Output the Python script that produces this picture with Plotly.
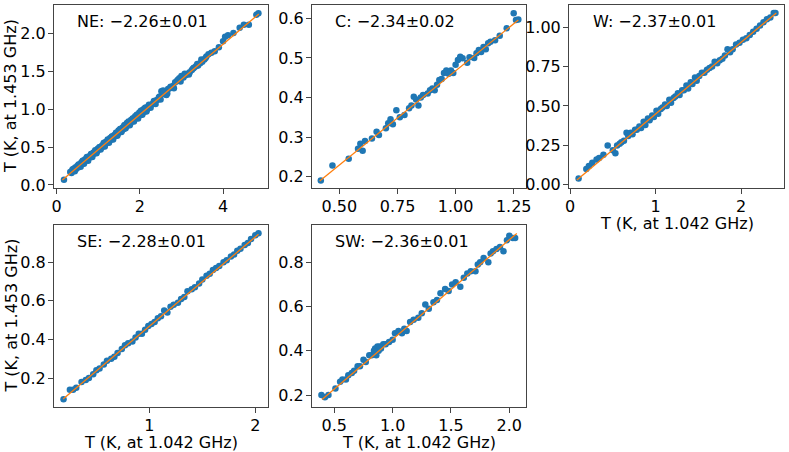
import plotly.graph_objects as go

# ---------------- data ----------------
NE_x = [0.18,0.33,0.36,0.40,0.42,0.45,0.47,0.50,0.52,0.55,0.57,0.60,0.62,0.64,0.67,0.69,0.72,0.74,0.77,0.79,
        0.82,0.84,0.87,0.89,0.92,0.94,0.97,0.99,1.02,1.04,1.07,1.09,1.12,1.14,1.17,1.19,1.22,1.24,1.27,1.29,
        1.32,1.34,1.37,1.39,1.42,1.44,1.47,1.49,1.52,1.54,1.57,1.59,1.62,1.64,1.67,1.69,1.72,1.74,1.77,1.79,
        1.82,1.84,1.87,1.89,1.92,1.94,1.97,1.99,2.02,2.04,2.07,2.09,2.12,2.14,2.17,2.20,2.24,2.28,2.32,2.36,
        2.40,2.44,2.48,2.52,2.56,2.60,2.64,2.68,2.72,2.76,2.80,2.85,2.90,2.95,3.00,3.05,3.10,3.15,3.20,3.25,
        3.30,3.35,3.40,3.45,3.50,3.55,3.60,3.65,3.72,3.80,3.90,4.00,4.05,4.12,4.25,4.40,4.50,4.62,4.80,4.85,
        0.38,0.44,0.53,0.58,0.63,0.66,0.73,0.76,0.83,0.86,0.93,0.96,1.03,1.06,1.13,1.16,1.23,1.26,1.33,1.36,
        1.43,1.46,1.53,1.56,1.63,1.66,1.73,1.76,1.83,1.86,1.93,1.96,2.03,2.06,2.13,2.16,2.22,2.26,2.34,2.38,
        2.46,2.50,2.58,2.66,2.74,2.82,2.92,2.98,3.08,3.18,3.28,3.38,3.48,3.58]
NE_y = [0.07,0.17,0.16,0.21,0.19,0.23,0.21,0.25,0.23,0.27,0.26,0.30,0.28,0.32,0.30,0.34,0.33,0.36,0.35,0.38,
        0.37,0.41,0.40,0.43,0.42,0.45,0.44,0.48,0.47,0.50,0.49,0.52,0.51,0.56,0.54,0.57,0.56,0.59,0.58,0.62,
        0.60,0.64,0.63,0.66,0.65,0.69,0.67,0.72,0.70,0.74,0.72,0.76,0.74,0.79,0.77,0.82,0.79,0.83,0.81,0.86,
        0.84,0.88,0.86,0.91,0.89,0.93,0.91,0.96,0.93,0.98,0.95,1.00,0.97,1.02,0.99,1.03,1.03,1.06,1.08,1.09,
        1.12,1.13,1.17,1.24,1.25,1.20,1.19,1.27,1.28,1.29,1.31,1.36,1.38,1.41,1.44,1.42,1.45,1.47,1.49,1.52,
        1.55,1.57,1.58,1.61,1.63,1.66,1.70,1.73,1.75,1.77,1.82,1.90,1.96,1.98,2.01,2.08,2.12,2.12,2.25,2.27,
        0.20,0.18,0.27,0.24,0.32,0.28,0.37,0.32,0.41,0.37,0.46,0.42,0.50,0.47,0.55,0.51,0.60,0.56,0.64,0.60,
        0.69,0.65,0.74,0.70,0.79,0.75,0.84,0.79,0.88,0.84,0.93,0.88,0.98,0.93,1.02,0.97,1.06,1.02,1.11,1.07,
        1.16,1.13,1.22,1.21,1.30,1.28,1.39,1.37,1.47,1.46,1.54,1.60,1.66,1.68]
NE_fit_x = [0.14, 4.86]
NE_fit_y = [0.066, 2.26]

C_x = [0.42,0.47,0.54,0.58,0.59,0.60,0.61,0.64,0.66,0.67,0.70,0.71,0.72,0.73,0.745,0.76,0.78,0.80,0.81,0.82,
       0.83,0.84,0.85,0.86,0.88,0.89,0.90,0.91,0.92,0.93,0.94,0.95,0.96,0.97,0.98,0.99,1.00,1.01,1.02,1.03,
       1.05,1.06,1.08,1.09,1.10,1.11,1.12,1.13,1.14,1.15,1.17,1.19,1.22,1.25,1.26,1.27]
C_y = [0.19,0.228,0.245,0.27,0.283,0.265,0.29,0.296,0.313,0.305,0.322,0.335,0.345,0.332,0.368,0.35,0.356,0.373,0.38,0.402,
       0.395,0.38,0.40,0.406,0.41,0.418,0.423,0.418,0.432,0.444,0.447,0.462,0.468,0.46,0.468,0.462,0.483,0.495,0.503,0.499,
       0.488,0.502,0.50,0.512,0.52,0.515,0.528,0.522,0.537,0.541,0.545,0.556,0.575,0.613,0.596,0.597]
C_fit_x = [0.415, 1.27]
C_fit_y = [0.189, 0.596]

W_x = [0.10,0.19,0.22,0.26,0.31,0.34,0.39,0.44,0.50,0.53,0.55,0.58,0.60,0.63,0.66,0.68,0.71,0.73,0.76,0.78,
       0.81,0.83,0.86,0.88,0.91,0.93,0.96,0.98,1.01,1.03,1.06,1.08,1.11,1.13,1.16,1.18,1.21,1.23,1.26,1.28,
       1.31,1.33,1.36,1.38,1.41,1.43,1.46,1.48,1.51,1.54,1.57,1.60,1.63,1.66,1.69,1.72,1.75,1.78,1.81,1.84,
       1.87,1.90,1.94,1.98,2.02,2.06,2.10,2.14,2.18,2.22,2.26,2.30,2.34,2.38,2.40]
W_y = [0.04,0.10,0.12,0.14,0.16,0.17,0.19,0.25,0.22,0.20,0.25,0.26,0.27,0.28,0.33,0.31,0.33,0.32,0.35,0.35,
       0.37,0.36,0.40,0.38,0.42,0.41,0.44,0.43,0.47,0.45,0.48,0.49,0.51,0.50,0.54,0.52,0.55,0.56,0.58,0.57,
       0.60,0.60,0.63,0.61,0.65,0.64,0.68,0.66,0.69,0.71,0.71,0.73,0.74,0.75,0.78,0.77,0.79,0.80,0.82,0.86,
       0.84,0.86,0.89,0.90,0.92,0.93,0.95,0.97,0.99,1.01,1.03,1.05,1.06,1.09,1.09]
W_fit_x = [0.08, 2.41]
W_fit_y = [0.03, 1.09]

SE_x = [0.19,0.25,0.28,0.31,0.36,0.40,0.43,0.47,0.50,0.53,0.57,0.60,0.64,0.67,0.70,0.74,0.77,0.80,0.84,0.87,
        0.90,0.93,0.96,0.99,1.02,1.05,1.08,1.11,1.14,1.17,1.20,1.23,1.27,1.30,1.33,1.36,1.40,1.43,1.47,1.50,
        1.54,1.57,1.60,1.63,1.66,1.70,1.73,1.77,1.80,1.83,1.86,1.90,1.93,1.96,2.00,2.03]
SE_y = [0.09,0.14,0.14,0.15,0.18,0.19,0.20,0.22,0.24,0.25,0.27,0.29,0.30,0.31,0.33,0.35,0.37,0.38,0.39,0.41,
        0.43,0.43,0.45,0.47,0.48,0.49,0.51,0.52,0.55,0.54,0.57,0.58,0.59,0.61,0.62,0.65,0.66,0.67,0.69,0.71,
        0.73,0.74,0.76,0.77,0.78,0.80,0.81,0.83,0.84,0.86,0.87,0.89,0.90,0.92,0.94,0.95]
SE_fit_x = [0.186, 2.03]
SE_fit_y = [0.091, 0.945]

SW_x = [0.39,0.42,0.45,0.51,0.55,0.57,0.60,0.62,0.65,0.67,0.70,0.72,0.75,0.77,0.80,0.82,0.84,0.85,0.86,0.87,
        0.88,0.89,0.90,0.92,0.94,0.97,1.00,1.02,1.05,1.08,1.10,1.12,1.15,1.18,1.22,1.25,1.28,1.31,1.35,1.38,
        1.41,1.45,1.48,1.51,1.54,1.58,1.61,1.64,1.67,1.71,1.73,1.75,1.78,1.82,1.84,1.86,1.89,1.92,1.95,1.98,
        2.00,2.03,2.05]
SW_y = [0.20,0.19,0.20,0.23,0.26,0.27,0.27,0.29,0.30,0.31,0.33,0.33,0.36,0.35,0.38,0.38,0.40,0.41,0.38,0.42,
        0.40,0.42,0.41,0.43,0.43,0.44,0.45,0.48,0.49,0.48,0.50,0.49,0.53,0.54,0.55,0.57,0.61,0.59,0.62,0.63,
        0.66,0.68,0.67,0.70,0.71,0.69,0.73,0.75,0.76,0.76,0.79,0.80,0.82,0.80,0.84,0.85,0.86,0.87,0.85,0.90,
        0.92,0.91,0.91]
SW_fit_x = [0.395, 2.064]
SW_fit_y = [0.18, 0.931]

labels = ["NE: \u22122.26\u00b10.01", "C: \u22122.34\u00b10.02", "W: \u22122.37\u00b10.01",
          "SE: \u22122.28\u00b10.01", "SW: \u22122.36\u00b10.01"]

xticks = [[0, 2, 4], [0.5, 0.75, 1.0, 1.25], [0, 1, 2], [1, 2], [0.5, 1.0, 1.5, 2.0]]
xtick_text = [["0", "2", "4"], ["0.50", "0.75", "1.00", "1.25"], ["0", "1", "2"], ["1", "2"],
              ["0.5", "1.0", "1.5", "2.0"]]
yticks = [[0.0, 0.5, 1.0, 1.5, 2.0], [0.2, 0.3, 0.4, 0.5, 0.6], [0.0, 0.25, 0.5, 0.75, 1.0],
          [0.2, 0.4, 0.6, 0.8], [0.2, 0.4, 0.6, 0.8]]
ytick_text = [["0.0", "0.5", "1.0", "1.5", "2.0"], ["0.2", "0.3", "0.4", "0.5", "0.6"],
              ["0.00", "0.25", "0.50", "0.75", "1.00"], ["0.2", "0.4", "0.6", "0.8"], ["0.2", "0.4", "0.6", "0.8"]]

xlabel = "T (K, at 1.042 GHz)"
ylabel = "T (K, at 1.453 GHz)"

# ---------------- layout geometry ----------------
W_PX, H_PX = 789, 452
panels = [
    dict(x=NE_x, y=NE_y, fx=NE_fit_x, fy=NE_fit_y, xr=[-0.06, 5.08], yr=[-0.04, 2.38],
         px=(54, 268), py=(5, 188), xt=False, yt=True),
    dict(x=C_x, y=C_y, fx=C_fit_x, fy=C_fit_y, xr=[0.382, 1.303], yr=[0.171, 0.634],
         px=(312, 526), py=(5, 188), xt=False, yt=False),
    dict(x=W_x, y=W_y, fx=W_fit_x, fy=W_fit_y, xr=[-0.012, 2.5], yr=[-0.02, 1.14],
         px=(569, 784), py=(5, 188), xt=True, yt=False),
    dict(x=SE_x, y=SE_y, fx=SE_fit_x, fy=SE_fit_y, xr=[0.10, 2.12], yr=[0.05, 0.993],
         px=(54, 268), py=(225, 407), xt=True, yt=True),
    dict(x=SW_x, y=SW_y, fx=SW_fit_x, fy=SW_fit_y, xr=[0.309, 2.143], yr=[0.146, 0.969],
         px=(312, 526), py=(225, 407), xt=True, yt=False),
]

BLUE = "#1f77b4"
ORANGE = "#ff7f0e"
FONT = "DejaVu Sans"
FRAME = "#444"

fig = go.Figure()
layout = dict(
    width=W_PX, height=H_PX, margin=dict(l=0, r=0, t=0, b=0, autoexpand=False),
    paper_bgcolor="white", plot_bgcolor="white", showlegend=False,
    font=dict(family=FONT, size=16, color="black"),
)
annotations = []
for i, p in enumerate(panels):
    k = "" if i == 0 else str(i + 1)
    xa, ya = "x" + k, "y" + k
    fig.add_trace(go.Scatter(x=p["x"], y=p["y"], mode="markers", xaxis=xa, yaxis=ya,
                             marker=dict(color=BLUE, size=6.5, line=dict(width=0))))
    fig.add_trace(go.Scatter(x=p["fx"], y=p["fy"], mode="lines", xaxis=xa, yaxis=ya,
                             line=dict(color=ORANGE, width=1.3)))
    common = dict(showgrid=False, zeroline=False, showline=True, mirror=True, linecolor=FRAME,
                  linewidth=1, ticks="outside", ticklen=5, tickwidth=1, tickcolor=FRAME,
                  ticklabelstandoff=-1,
                  automargin=False, tickfont=dict(family=FONT, size=16, color="black"))
    layout["xaxis" + k] = dict(common, domain=[p["px"][0] / W_PX, p["px"][1] / W_PX], range=p["xr"],
                               anchor=ya, tickvals=xticks[i], ticktext=xtick_text[i])
    layout["yaxis" + k] = dict(common, domain=[1 - p["py"][1] / H_PX, 1 - p["py"][0] / H_PX], range=p["yr"],
                               anchor=xa, tickvals=yticks[i], ticktext=ytick_text[i])
    annotations.append(dict(text=labels[i], xref=xa + " domain", yref=ya + " domain", x=0.1, y=0.91,
                            xanchor="left", yanchor="middle", showarrow=False,
                            font=dict(family=FONT, size=16, color="black")))
    if p["xt"]:
        annotations.append(dict(text=xlabel, xref="paper", yref="paper",
                                x=(p["px"][0] + p["px"][1]) / 2 / W_PX, y=1 - (p["py"][1] + 24) / H_PX,
                                xanchor="center", yanchor="top", showarrow=False,
                                font=dict(family=FONT, size=16, color="black")))
    if p["yt"]:
        annotations.append(dict(text=ylabel, xref="paper", yref="paper", textangle=-90,
                                x=10.5 / W_PX, y=1 - (p["py"][0] + p["py"][1]) / 2 / H_PX,
                                xanchor="center", yanchor="middle", showarrow=False,
                                font=dict(family=FONT, size=16, color="black")))
layout["annotations"] = annotations
fig.update_layout(**layout)
fig.write_html("out.html", config={"displayModeBar": False},
               post_script="document.body.style.margin='0';document.body.style.padding='0';")
